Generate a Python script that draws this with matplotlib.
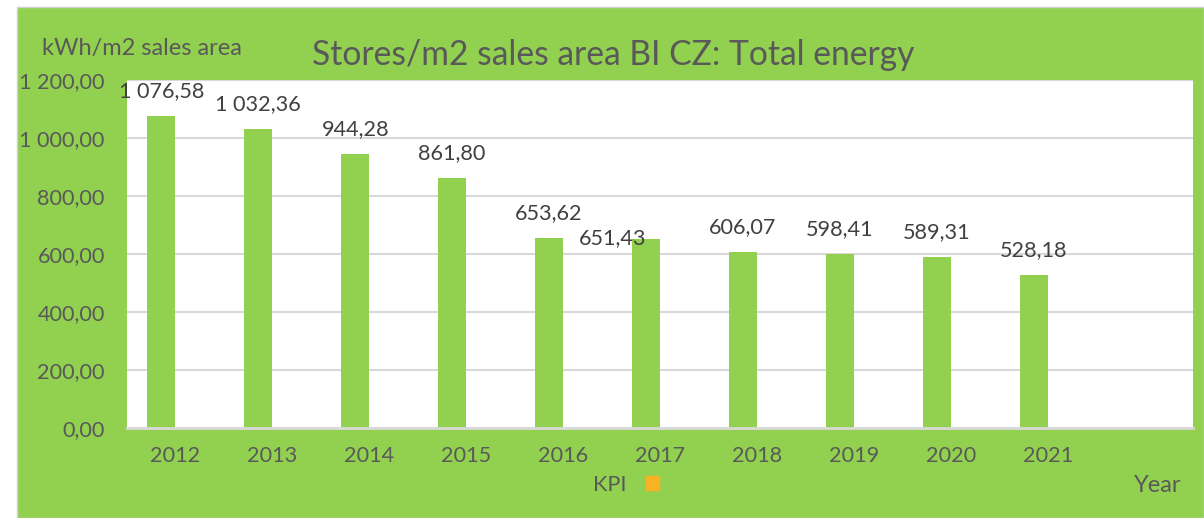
import matplotlib.pyplot as plt
from matplotlib.patches import Rectangle, Patch

plt.rcParams['font.family'] = ['Lato', 'DejaVu Sans']

# data
years = ['2012', '2013', '2014', '2015', '2016', '2017', '2018', '2019', '2020', '2021']
energy = [1076.58, 1032.36, 944.28, 861.80, 653.62, 651.43, 606.07, 598.41, 589.31, 528.18]
value_labels = ['1 076,58', '1 032,36', '944,28', '861,80', '653,62',
                '651,43', '606,07', '598,41', '589,31', '528,18']
yticks = [0, 200, 400, 600, 800, 1000, 1200]
ytick_labels = ['0,00', '200,00', '400,00', '600,00', '800,00', '1 000,00', '1 200,00']

green = '#92D050'
orange = '#F9B224'
txt = '#595959'
fs = 17      # words
fs_num = 15.6  # numbers (Lato digits run wider than the original's)

W, H = 1204, 518
fig = plt.figure(figsize=(W / 100, H / 100), dpi=100, facecolor='white')
fig.patches.append(Rectangle((17 / W, 0), 1 - 17 / W, (H - 7) / H,
                             transform=fig.transFigure, facecolor=green,
                             edgecolor='#D0D0D0', lw=1, zorder=-10))

ax = fig.add_axes([127 / W, (H - 428) / H, (1193 - 127) / W, (428 - 80) / H])
ax.set_facecolor('white')
ax.set_zorder(1)

w = 0.29
slots = list(range(len(years) + 1))
xs = [i - w / 2 for i in range(len(years))]
ax.bar(xs, energy, width=w, color=green, zorder=2)

for i, (x, v, s) in enumerate(zip(xs, energy, value_labels)):
    if years[i] == '2017':
        ax.annotate(s, (x, v), xytext=(-24, 1), textcoords='offset points',
                    ha='center', va='center', fontsize=fs_num, color='#404040', zorder=3)
    else:
        ax.annotate(s, (x, v), xytext=(0, 18), textcoords='offset points',
                    ha='center', va='center', fontsize=fs_num, color='#404040', zorder=3)

ax.set_xlim(-0.5, len(years) + 0.5)
ax.set_ylim(0, 1200)
ax.set_xticks(slots)
ax.set_xticklabels(years + [''])
ax.set_yticks(yticks)
ax.set_yticklabels(ytick_labels)
ax.tick_params(axis='both', length=0, labelsize=fs_num, labelcolor=txt)
ax.tick_params(axis='x', pad=13)
ax.tick_params(axis='y', pad=16)
ax.grid(axis='y', color='#D9D9D9', lw=1.5, zorder=1)
ax.set_axisbelow(True)
for side in ['top', 'right', 'left']:
    ax.spines[side].set_visible(False)
ax.spines['bottom'].set_color('#D9D9D9')
ax.spines['bottom'].set_linewidth(2)

fig.text(613 / W, 1 - 55 / H, 'Stores/m2 sales area BI CZ: Total energy',
         ha='center', va='center', fontsize=24.2, color=txt)
fig.text(42 / W, 1 - 48 / H, 'kWh/m2 sales area', ha='left', va='center',
         fontsize=fs, color=txt)
fig.text(1181 / W, 1 - 485 / H, 'Year', ha='right', va='center',
         fontsize=fs, color=txt)

fig.legend(handles=[Patch(color=orange, label='KPI')], loc='center',
           bbox_to_anchor=(626 / W, 1 - 485 / H), frameon=False,
           markerfirst=False, handlelength=0.6, handleheight=0.6, handletextpad=0.9,
           fontsize=fs_num, labelcolor=txt)

fig.savefig('out.png', dpi=100, facecolor='white')
